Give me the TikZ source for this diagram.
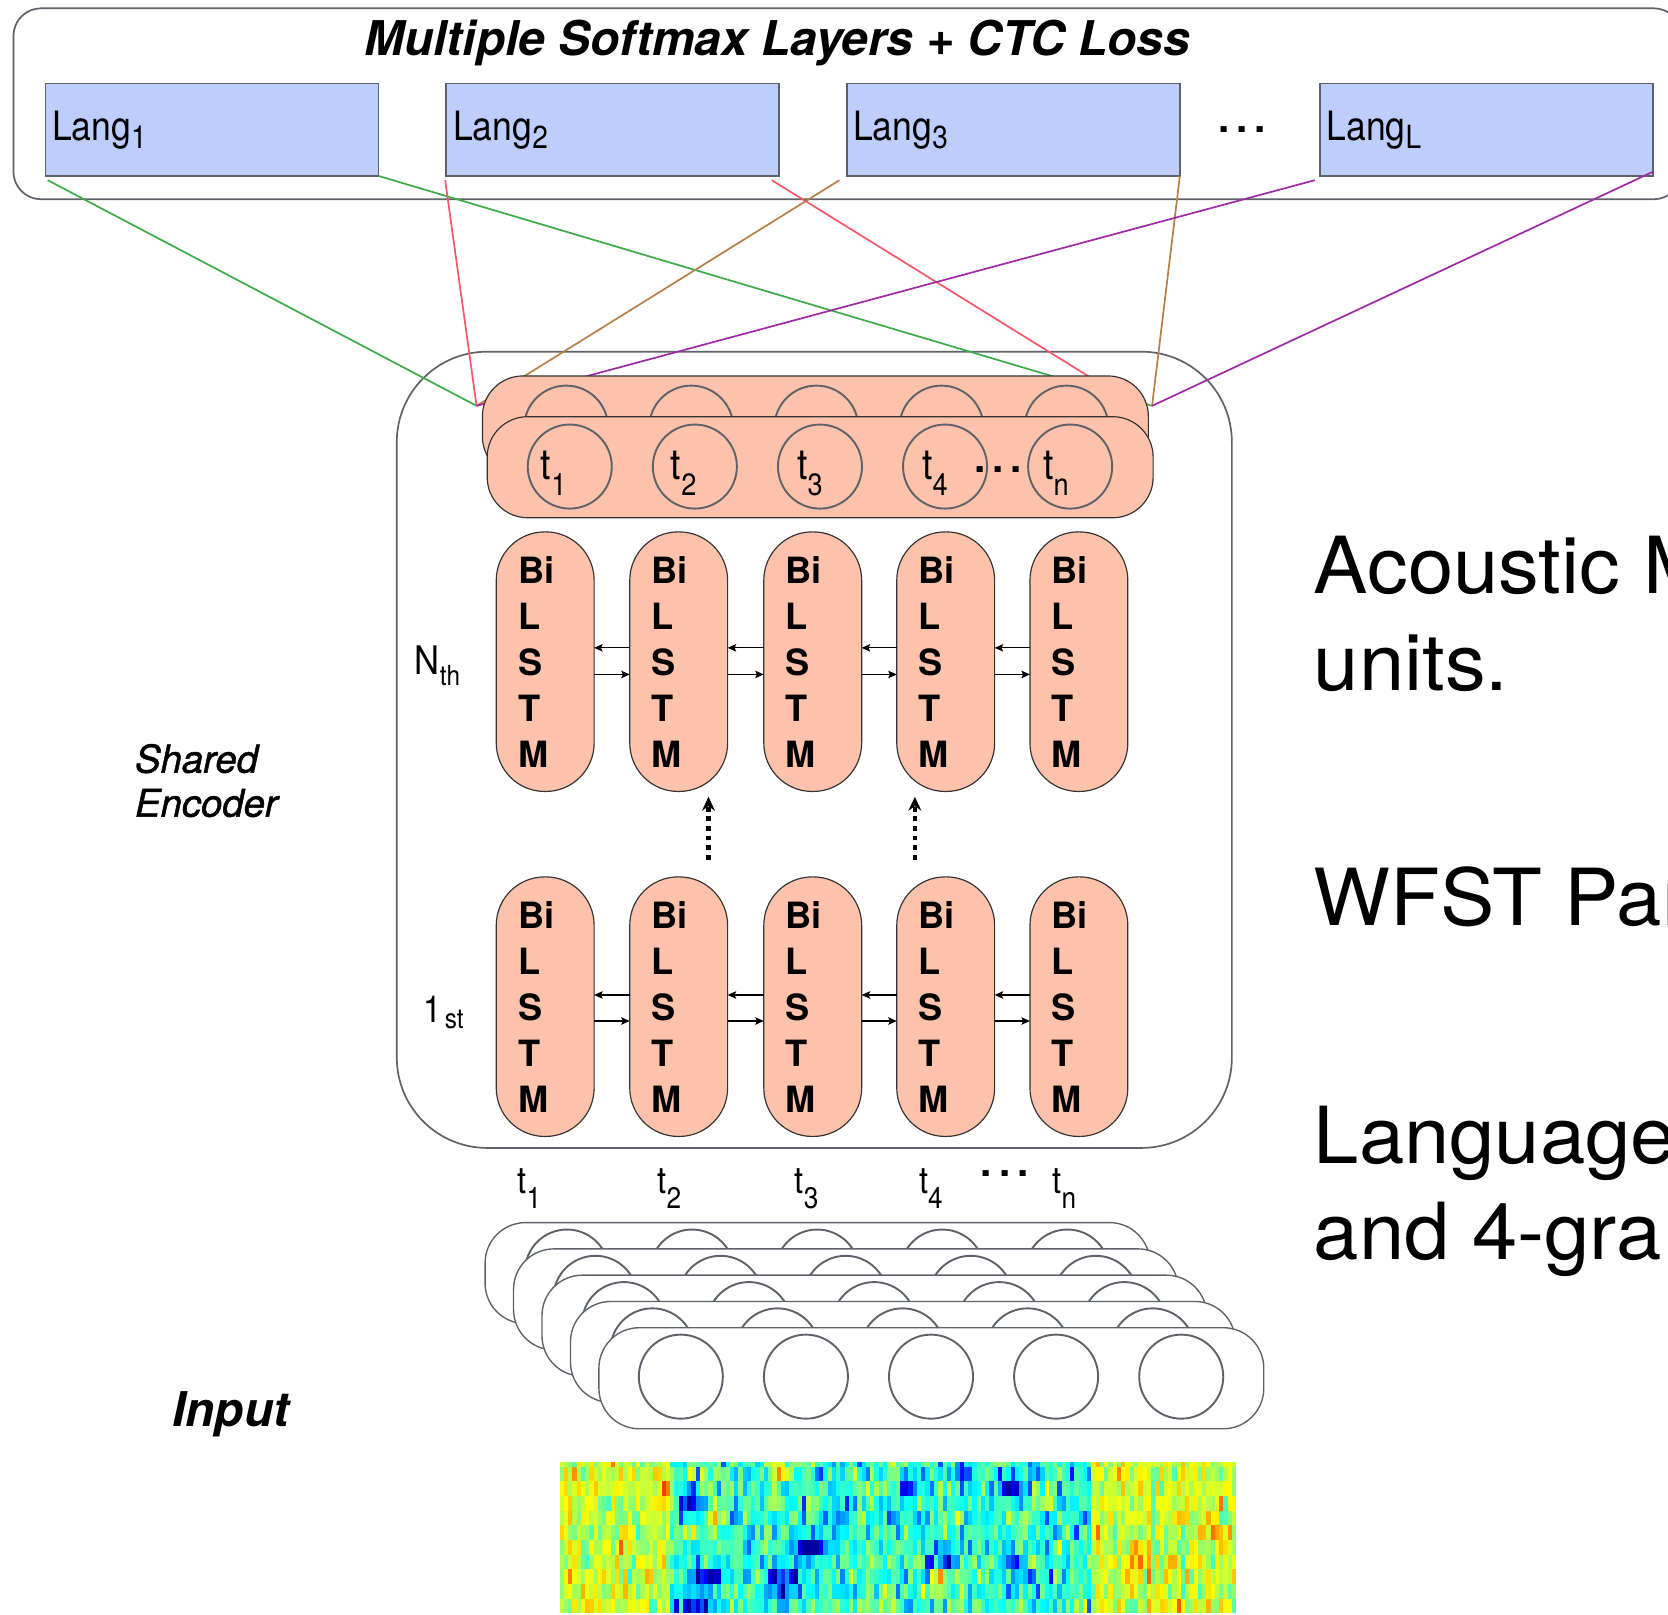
\documentclass[tikz,border=0pt]{standalone}
\usepackage{fontspec}
\setmainfont{TeX Gyre Heros}
\newfontfamily\condfont[FakeStretch=0.88]{TeX Gyre Heros}
\newfontfamily\medfont[FakeBold=1.3]{TeX Gyre Heros}
\newfontfamily\widefont[FakeStretch=1.035]{TeX Gyre Heros}
\usetikzlibrary{arrows.meta}

\definecolor{salmon}{RGB}{252,194,172}
\definecolor{langblue}{RGB}{189,206,252}
\definecolor{edgegray}{RGB}{95,99,105}
\definecolor{lgreen}{RGB}{60,172,72}
\definecolor{lred}{RGB}{250,86,106}
\definecolor{lbrown}{RGB}{178,128,72}
\definecolor{lpurple}{RGB}{160,42,165}

\newcommand{\fsz}[1]{\fontsize{#1}{#1}\selectfont}
\newcommand{\lowsub}[3]{\raisebox{-#1pt}{\fsz{#2}#3}}
\newcommand{\heavydots}{{\bfseries\fsz{38}.\hspace{6.5pt}.\hspace{6.5pt}.}}

% spectrogram blobs: centre (fraction of width) / row / strength / width
\def\specblobs{0.22/8/-0.42/0.02,0.37/6/-0.42/0.03,0.515/2/-0.4/0.01,0.19/3/-0.35/0.012,0.67/2/-0.3/0.015,0.72/4/-0.35/0.008,0.57/6.5/-0.3/0.02,0.33/8.5/-0.3/0.025,0.2/10/-0.3/0.025,0.415/4/-0.25/0.015,0.49/4/-0.25/0.01,0.67/7/-0.25/0.02,0.6/1/-0.3/0.01,0.325/0.5/0.3/0.015,0.562/8/0.33/0.01,0.722/3/0.3/0.008,0.226/4/0.28/0.008,0.155/2/0.25/0.006,0.855/7/0.2/0.01}

\begin{document}
\begin{tikzpicture}[x=1pt,y=-1pt,
  every node/.style={inner sep=0pt, outer sep=0pt},
  frame/.style={draw=edgegray, line width=1.6pt},
  langbox/.style={frame, fill=langblue, minimum width=313pt, minimum height=87pt},
  layerbox/.style={draw=black!80, line width=1.1pt, fill=salmon, rounded corners=38pt,
                   minimum width=626pt, minimum height=95pt},
  inbox/.style={draw=edgegray, line width=1.3pt, fill=white, rounded corners=38pt,
                minimum width=625pt, minimum height=95pt},
  unit/.style={circle, draw=edgegray, line width=1.8pt, minimum size=79pt},
  lstm/.style={draw=black!80, line width=1.1pt, fill=salmon, rounded corners=45.5pt,
               minimum width=92pt, minimum height=244pt, text width=51pt, align=left,
               font=\bfseries\fontsize{34}{43.25}\selectfont},
  link/.style={line width=1.6pt},
  lat/.style={-{Stealth[length=8pt,width=7pt,inset=1.5pt]}, line width=1.1pt},
  upflow/.style={-{Stealth[length=13pt,width=12pt]}, line width=4pt,
                 dash pattern=on 4.5pt off 4.5pt},
  tcirc/.style={anchor=base west, font=\condfont\fsz{40}},
  tbelow/.style={anchor=base west, font=\condfont\fsz{35}},
  bigtext/.style={anchor=base west, font=\widefont\fsz{74}}
]
\useasboundingbox (0,0) rectangle (1568,1518);
\clip (0,0) rectangle (1568,1518);

% ---------- output layers ----------
\node[frame, rounded corners=26pt, minimum width=1568pt, minimum height=179.5pt,
      anchor=north west] (softmax) at (12.6,7.8) {};
\node[anchor=base] (title) at (730.5,52.5)
  {\bfseries\itshape\fsz{45}Multiple Softmax Layers + CTC Loss};

\node[langbox] (l1) at (199.4,121.9) {};
\node[langbox] (l2) at (576,121.9) {};
\node[langbox] (l3) at (952.6,121.9) {};
\node[langbox] (lL) at (1397.4,121.9) {};
\node[anchor=base west] (l1t) at (49,132) {\condfont\fsz{38}Lang\lowsub{8}{30}{1}};
\node[anchor=base west] (l2t) at (426,132) {\condfont\fsz{38}Lang\lowsub{8}{30}{2}};
\node[anchor=base west] (l3t) at (802,132) {\condfont\fsz{38}Lang\lowsub{8}{30}{3}};
\node[anchor=base west] (lLt) at (1247,132) {\condfont\fsz{38}Lang\lowsub{8}{30}{L}};
\node (ldots) at (1167.5,122) {\heavydots};

% ---------- shared encoder ----------
\node[frame, rounded corners=85pt, minimum width=785pt, minimum height=748.5pt,
      anchor=north west] (enc) at (373,330.6) {};

% language-specific connections
\coordinate (hubL) at (448,381.5);
\coordinate (hubR) at (1083,381.5);
\coordinate (hubR2) at (1069,382);
\draw[link,lgreen]  ([shift={(2pt,-4pt)}]l1.south west) -- (hubL);
\draw[link,lgreen]  (l1.south east) -- (hubR);
\draw[link,lred]    ([shift={(-1pt,-4pt)}]l2.south west) -- (hubL);
\draw[link,lred]    ([shift={(-7pt,-4pt)}]l2.south east) -- (hubR2);
\draw[link,lbrown]  ([shift={(-7pt,-4pt)}]l3.south west) -- (hubL);
\draw[link,lbrown]  (l3.south east) -- (hubR);
\draw[link,lpurple] ([shift={(-5pt,-4pt)}]lL.south west) -- (hubL);
\draw[link,lpurple] ([shift={(0pt,4pt)}]lL.south east) -- (hubR);

% top time-step layers
\node[layerbox, anchor=north west] (tback) at (453.5,353.4) {};
\foreach \k in {1,...,5}
  \node[unit] (tb\k) at ({532.2+117.6*(\k-1)},402) {};
\node[layerbox, anchor=north west] (tfront) at (458,391.7) {};
\foreach \k in {1,...,5}
  \node[unit] (tf\k) at ({535.6+117.6*(\k-1)},438.6) {};
\node[tcirc] (tc1) at (508.5,451) {t\lowsub{15}{29}{1}};
\node[tcirc] (tc2) at (630.7,451) {t\lowsub{15}{29}{2}};
\node[tcirc] (tc3) at (749.4,451) {t\lowsub{15}{29}{3}};
\node[tcirc] (tc4) at (867,451) {t\lowsub{15}{29}{4}};
\node[tcirc] (tcn) at (980.7,451) {t\lowsub{15}{29}{n}};
\node (tcdots) at (938.5,441) {\heavydots};

% BiLSTM stacks
\foreach \k/\cx in {1/512.5,2/638,3/764,4/889,5/1014.2} {
  \node[lstm] (n\k) at (\cx,622) {Bi\\L\\S\\T\\M};
  \node[lstm] (b\k) at (\cx,946.3) {Bi\\L\\S\\T\\M};
}
\foreach \a/\b in {1/2,2/3,3/4,4/5} {
  \draw[lat] ([yshift=13pt]n\b.west) -- ([yshift=13pt]n\a.east);
  \draw[lat] ([yshift=-12pt]n\a.east) -- ([yshift=-12pt]n\b.west);
  \draw[lat] ([yshift=11pt]b\b.west) -- ([yshift=11pt]b\a.east);
  \draw[lat] ([yshift=-13.5pt]b\a.east) -- ([yshift=-13.5pt]b\b.west);
}
\coordinate (upA0) at (666,808);
\coordinate (upA1) at (666,749);
\coordinate (upB0) at (860,808);
\coordinate (upB1) at (860,749);
\draw[upflow] (upA0) -- (upA1);
\draw[upflow] (upB0) -- (upB1);

\node[anchor=base west] (nth) at (390,634.5) {\condfont\fsz{37}N\lowsub{9.5}{26}{th}};
\node[anchor=base west] (first) at (398,961) {\condfont\fsz{35}1\hspace{3pt}\lowsub{6}{26}{st}};

\node[anchor=base west] (sh1) at (127,726.3) {\medfont\itshape\fsz{36}Shared};
\node[anchor=base west] (sh2) at (127,767.7) {\medfont\itshape\fsz{36}Encoder};

% ---------- input frames ----------
\node[tbelow] (tt1) at (486.5,1121.6) {t\lowsub{14}{28}{1}};
\node[tbelow] (tt2) at (618,1121.6) {t\lowsub{14}{28}{2}};
\node[tbelow] (tt3) at (747,1121.6) {t\lowsub{14}{28}{3}};
\node[tbelow] (tt4) at (864,1121.6) {t\lowsub{14}{28}{4}};
\node[tbelow] (ttn) at (989.5,1121.6) {t\lowsub{14}{28}{n}};
\node (ttdots) at (944.5,1103) {\heavydots};

\foreach \i in {0,...,4} {
  \node[inbox, anchor=north west] (in\i) at ({456+26.75*\i},{1149.3+24.7*\i}) {};
  \foreach \k in {1,...,5}
    \node[unit] (in\i-\k) at ({456+26.75*\i+77+117.6*(\k-1)},{1149.3+24.7*\i+46}) {};
}

\node[anchor=base west] (inp) at (162,1340.5) {\bfseries\itshape\fsz{45}Input};

% spectrogram (jet colour map)
\begin{scope}
\pgfmathsetseed{1307}
\foreach \sc in {0,...,158} {
  \pgfmathsetmacro{\sfx}{\sc/158}
  \pgfmathsetmacro{\sxa}{526+4*\sc}
  \pgfmathsetmacro{\sedge}{1-(\sfx>0.16)*(\sfx<0.79)}
  \gdef\actlist{0/0}
  \foreach \bxc/\brc/\bam/\bwd in \specblobs {
    \pgfmathsetmacro{\bxf}{\bam*exp(0-pow(min(4,abs(\sfx-\bxc)/\bwd),2))}
    \pgfmathtruncatemacro{\bon}{abs(\bxf)>0.005}
    \ifnum\bon=1 \xdef\actlist{\actlist,\bxf/\brc}\fi
  }
  \foreach \sr in {0,...,10} {
    \gdef\sacc{0}
    \foreach \xa/\xr in \actlist {
      \pgfmathsetmacro{\snew}{\sacc+\xa*exp(0-pow(min(4,abs(\sr-\xr)/0.9),2))}
      \xdef\sacc{\snew}
    }
    \pgfmathsetmacro{\sval}{max(0.03,min(0.93,0.44+0.14*\sedge+0.15*(rnd+rnd-1)-(0.16-0.08*\sedge)*(rnd<0.14-0.08*\sedge)+0.12*(rnd<0.05)+\sacc))}
    \pgfmathsetmacro{\scr}{max(0,min(1,1.5-abs(4*\sval-3)))}
    \pgfmathsetmacro{\scg}{max(0,min(1,1.5-abs(4*\sval-2)))}
    \pgfmathsetmacro{\scb}{max(0,min(1,1.5-abs(4*\sval-1)))}
    \definecolor{spc}{rgb}{\scr,\scg,\scb}
    \pgfmathsetmacro{\sya}{(\sr==0) ? 1374 : 1378.7+13.8*(\sr-1)}
    \pgfmathsetmacro{\syb}{1378.7+13.8*\sr}
    \fill[spc] (\sxa,\sya) rectangle ({\sxa+4.3},\syb);
  }
}
\end{scope}

% ---------- side notes ----------
\node[bigtext] (am1) at (1235,558) {Acoustic M};
\node[bigtext] (am2) at (1235,649) {units.};
\node[bigtext] (wf) at (1235,870) {WFST Par};
\node[bigtext] (lm1) at (1235,1093.5) {Language};
\node[bigtext] (lm2) at (1235,1184) {and 4-gra};
\end{tikzpicture}
\end{document}
